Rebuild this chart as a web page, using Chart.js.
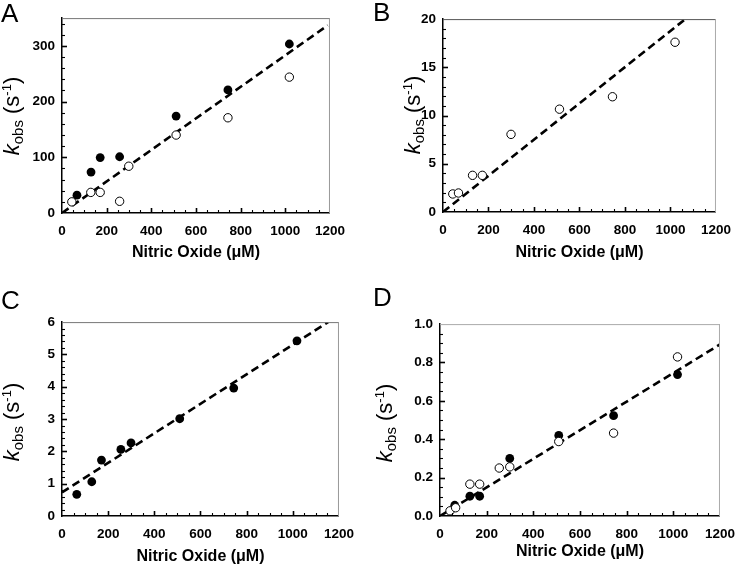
<!DOCTYPE html>
<html>
<head>
<meta charset="utf-8">
<script src="https://cdn.jsdelivr.net/npm/chart.js@4.4.0/dist/chart.umd.min.js"></script>
<style>
    html, body { margin: 0; padding: 0; background: #fff; }
    #fig { position: relative; width: 745px; height: 569px; overflow: hidden; font-family: 'Liberation Sans', Arial, sans-serif; }
    #fig canvas { position: absolute; }
    .letter { position: absolute; font-size: 26px; line-height: 1; color: #000; }
    .ytitle { position: absolute; font-size: 22px; line-height: 1; white-space: nowrap; color: #000;
              transform: translate(-50%, -50%) rotate(-90deg); }
    .ytitle sub { font-size: 15px; vertical-align: -4px; }
    .ytitle sup { font-size: 13px; vertical-align: 8px; }
</style>
</head>
<body>
<div id="fig"></div>
<script>
// Nitric oxide concentrations (uM) and kobs values (s-1)
const xTicks = [0, 200, 400, 600, 800, 1000, 1200];

// panel A
const noA_solid = [67, 130, 171, 258, 511, 743, 1018];
const kA_solid  = [32, 73.5, 99.6, 101, 174, 221, 303.5];
const noA_open  = [44, 129, 171, 258, 299, 511, 743, 1018];
const kA_open   = [20, 37, 37, 21, 84, 140, 171, 244];
const fitA_x = [0, 1190];
const fitA_y = [0, 337];
const yTicksA = [0, 100, 200, 300];

// panel B
const noB_open = [43, 68, 130, 173, 299, 512, 745, 1020];
const kB_open  = [1.87, 1.97, 3.8, 3.8, 8.05, 10.66, 11.95, 17.6];
const fitB_x = [0, 1065];
const fitB_y = [0, 20];
const yTicksB = [0, 5, 10, 15, 20];

// panel C
const noC_solid = [64, 129, 171, 255, 299, 510, 744, 1018];
const kC_solid  = [0.67, 1.06, 1.73, 2.06, 2.26, 3.01, 3.96, 5.42];
const fitC_x = [0, 1153];
const fitC_y = [0.73, 6];
const yTicksC = [0, 1, 2, 3, 4, 5, 6];

// panel D
const noD_solid = [63, 128, 170, 299, 509, 744, 1018];
const kD_solid  = [0.056, 0.103, 0.103, 0.30, 0.42, 0.523, 0.737];
const noD_open  = [43, 67, 128, 170, 254, 299, 509, 744, 1018];
const kD_open   = [0.027, 0.043, 0.166, 0.166, 0.25, 0.256, 0.388, 0.432, 0.829];
const fitD_x = [0, 1200];
const fitD_y = [0, 0.894];
const yTicksD = [0, 0.2, 0.4, 0.6, 0.8, 1.0];

document.addEventListener('DOMContentLoaded', function () {
    if (typeof Chart === 'undefined') {
        console.error('Chart.js not loaded');
        return;
    }

    const FONT = "'Liberation Sans', Arial, sans-serif";
    const PAD_L = 60, PAD_T = 12, PAD_R = 20, PAD_B = 60;
    const fig = document.getElementById('fig');

    const pts = (xs, ys) => xs.map((x, i) => ({ x: x, y: ys[i] }));
    const onStep = (v, step) => Math.abs(v / step - Math.round(v / step)) < 1e-6;

    // inward tick marks + light top/right frame
    const frameTicks = {
        id: 'frameTicks',
        afterDatasetsDraw(chart, args, o) {
            const { ctx, chartArea: a, scales: { x, y } } = chart;
            ctx.save();
            ctx.lineWidth = 1;
            ctx.strokeStyle = o.topColor;
            ctx.beginPath(); ctx.moveTo(a.left, a.top + 0.5); ctx.lineTo(a.right, a.top + 0.5); ctx.stroke();
            ctx.strokeStyle = o.rightColor;
            ctx.beginPath(); ctx.moveTo(a.right - 0.5, a.top); ctx.lineTo(a.right - 0.5, a.bottom); ctx.stroke();

            ctx.strokeStyle = '#000';
            for (let i = 1; i * o.xMinor < x.max - 1e-9; i++) {
                const v = i * o.xMinor;
                const major = onStep(v, o.xMajor);
                const px = Math.round(x.getPixelForValue(v)) + 0.5;
                ctx.lineWidth = major ? 1.6 : 1.1;
                ctx.beginPath(); ctx.moveTo(px, a.bottom); ctx.lineTo(px, a.bottom - (major ? 5 : 3)); ctx.stroke();
            }
            for (let i = 1; i * o.yMinor < y.max - 1e-9; i++) {
                const v = i * o.yMinor;
                const major = onStep(v, o.yMajor);
                const py = Math.round(y.getPixelForValue(v)) + 0.5;
                ctx.lineWidth = major ? 1.6 : 1.1;
                ctx.beginPath(); ctx.moveTo(a.left, py); ctx.lineTo(a.left + (major ? 5 : 3), py); ctx.stroke();
            }
            ctx.restore();
        }
    };

    function openSet(xs, ys) {
        return { data: pts(xs, ys), pointRadius: 4.2, pointBackgroundColor: '#fff',
                 pointBorderColor: '#000', pointBorderWidth: 1, showLine: false };
    }
    function solidSet(xs, ys) {
        return { data: pts(xs, ys), pointRadius: 4.4, pointBackgroundColor: '#000',
                 pointBorderColor: '#000', pointBorderWidth: 0, showLine: false };
    }
    function fitSet(xs, ys) {
        return { data: pts(xs, ys), showLine: true, pointRadius: 0, borderColor: '#000',
                 borderWidth: 2.6, borderDash: [8, 4.5], fill: false };
    }

    const panels = [
        { letter: 'A', lx: 1, ly: 0, rect: { l: 62, t: 15, r: 335, b: 213 }, ymax: 350,
          yTicks: yTicksA, yMinor: 20, yMajor: 100, dec: 0, titlePad: 10.4, yt: [12, 116],
          top: '#777', right: '#999',
          sets: [openSet(noA_open, kA_open), solidSet(noA_solid, kA_solid), fitSet(fitA_x, fitA_y)] },
        { letter: 'B', lx: 373, ly: -1, rect: { l: 443, t: 16, r: 721, b: 212 }, ymax: 20,
          yTicks: yTicksB, yMinor: 1, yMajor: 5, dec: 0, titlePad: 9.4, yt: [413, 115],
          top: '#555', right: '#aaa',
          sets: [openSet(noB_open, kB_open), fitSet(fitB_x, fitB_y)] },
        { letter: 'C', lx: 1, ly: 287, rect: { l: 62, t: 319, r: 344, b: 516 }, ymax: 6,
          yTicks: yTicksC, yMinor: 0.2, yMajor: 1, dec: 0, titlePad: 9.4, yt: [12, 422],
          top: '#777', right: '#999',
          sets: [solidSet(noC_solid, kC_solid), fitSet(fitC_x, fitC_y)] },
        { letter: 'D', lx: 373, ly: 284, rect: { l: 440, t: 321, r: 725, b: 516 }, ymax: 1.0,
          yTicks: yTicksD, yMinor: 0.05, yMajor: 0.2, dec: 1, titlePad: 14.4, yt: [385, 423],
          top: '#aaa', right: '#aaa',
          sets: [openSet(noD_open, kD_open), solidSet(noD_solid, kD_solid), fitSet(fitD_x, fitD_y)] }
    ];

    panels.forEach(p => {
        const r = p.rect;
        const w = r.r - r.l + PAD_L + PAD_R;
        const h = r.b - r.t + PAD_T + PAD_B;
        const cv = document.createElement('canvas');
        cv.width = w; cv.height = h;
        cv.style.width = w + 'px'; cv.style.height = h + 'px';
        cv.style.left = (r.l - PAD_L) + 'px';
        cv.style.top = (r.t - PAD_T) + 'px';
        fig.appendChild(cv);

        const letter = document.createElement('div');
        letter.className = 'letter';
        letter.textContent = p.letter;
        letter.style.left = p.lx + 'px';
        letter.style.top = p.ly + 'px';
        fig.appendChild(letter);

        const yt = document.createElement('div');
        yt.className = 'ytitle';
        yt.innerHTML = '<i>k</i><sub>obs</sub> (s<sup>-1</sup>)';
        yt.style.left = p.yt[0] + 'px';
        yt.style.top = p.yt[1] + 'px';
        fig.appendChild(yt);

        const tickFont = { family: FONT, size: 13.5, weight: 'bold' };
        const yStep = p.yTicks[1] - p.yTicks[0];
        const xStep = xTicks[1] - xTicks[0];

        new Chart(cv, {
            type: 'scatter',
            data: { datasets: p.sets },
            options: {
                responsive: false,
                animation: false,
                devicePixelRatio: 1,
                layout: { padding: { top: PAD_T, right: PAD_R, left: 0, bottom: 0 } },
                plugins: {
                    legend: { display: false },
                    tooltip: { enabled: false },
                    frameTicks: { xMinor: 50, xMajor: xStep, yMinor: p.yMinor, yMajor: p.yMajor,
                                  topColor: p.top, rightColor: p.right }
                },
                scales: {
                    x: {
                        type: 'linear', min: xTicks[0], max: xTicks[xTicks.length - 1],
                        afterFit: s => { s.height = PAD_B; },
                        afterBuildTicks: s => { s.ticks = s.ticks.filter(t => xTicks.includes(t.value)); },
                        ticks: { stepSize: xStep, color: '#000', font: tickFont, padding: 10,
                                 maxRotation: 0, autoSkip: false, callback: v => String(v) },
                        grid: { display: false, drawTicks: false },
                        border: { color: '#000', width: 1.5 },
                        title: { display: true, text: 'Nitric Oxide (\u03bcM)', color: '#000',
                                 font: { family: FONT, size: 16, weight: 'bold' },
                                 padding: { top: 0, bottom: p.titlePad } }
                    },
                    y: {
                        type: 'linear', min: 0, max: p.ymax,
                        afterFit: s => { s.width = PAD_L; },
                        afterBuildTicks: s => { s.ticks = s.ticks.filter(t => onStep(t.value, yStep)); },
                        ticks: { stepSize: yStep, color: '#000', font: tickFont, padding: 7,
                                 autoSkip: false, callback: v => Number(v).toFixed(p.dec) },
                        grid: { display: false, drawTicks: false },
                        border: { color: '#000', width: 1.5 }
                    }
                }
            },
            plugins: [frameTicks]
        });
    });
});
</script>
</body>
</html>
